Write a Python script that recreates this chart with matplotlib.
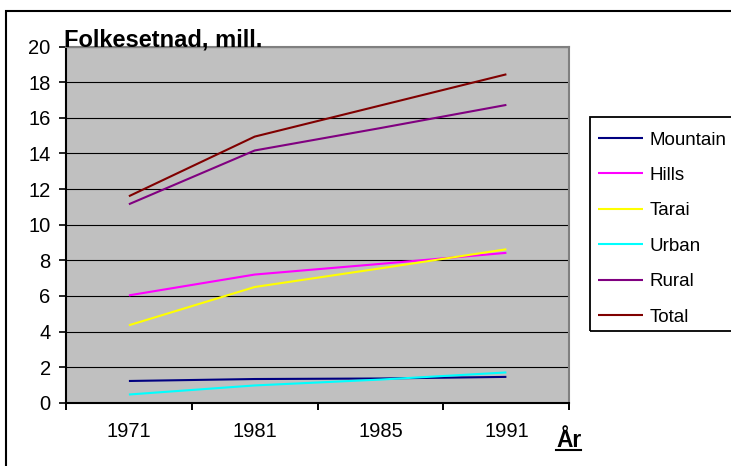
import matplotlib
matplotlib.use("Agg")
import matplotlib.pyplot as plt
from matplotlib.patches import Rectangle
from matplotlib.lines import Line2D

plt.rcParams['font.family'] = ['Liberation Sans', 'DejaVu Sans']

# Population (millions) by region
years = ["1971", "1981", "1985", "1991"]
mountain = [1.22, 1.33, 1.36, 1.45]
hills = [6.03, 7.20, 7.80, 8.42]
tarai = [4.35, 6.50, 7.55, 8.62]
urban = [0.46, 0.97, 1.30, 1.70]
rural = [11.15, 14.17, 15.43, 16.73]
total = [11.60, 14.95, 16.70, 18.45]

series_names = ["Mountain", "Hills", "Tarai", "Urban", "Rural", "Total"]
series_values = [mountain, hills, tarai, urban, rural, total]
series_colors = ["#000080", "#FF00FF", "#FFFF00", "#00FFFF", "#800080", "#800000"]

W, H = 731, 466
fig = plt.figure(figsize=(W / 100, H / 100), dpi=100)
fig.patch.set_facecolor("white")

# plot area in pixels
left, right, top, bottom = 66, 569.3, 46.7, 402.7
ax = fig.add_axes([left / W, (H - bottom) / H, (right - left) / W, (bottom - top) / H])
ax.set_facecolor("#C0C0C0")

x = list(range(len(years)))
for name, vals, col in zip(series_names, series_values, series_colors):
    ax.plot(x, vals, color=col, lw=1.5, label=name, solid_capstyle="butt", zorder=3)

ax.set_xlim(-0.5, len(years) - 0.5)
ax.set_ylim(0, 20)
ax.set_yticks(range(0, 21, 2))
ax.yaxis.grid(True, color="black", lw=0.8)
ax.set_axisbelow(True)

# category boundaries as tick marks, labels at category centres
ax.set_xticks([i - 0.5 for i in range(len(years) + 1)])
ax.set_xticklabels([])
ax.set_xticks(x, minor=True)
ax.set_xticklabels(years, minor=True)
ax.tick_params(axis="x", which="major", direction="out", length=5, width=1.4, color="black")
ax.tick_params(axis="x", which="minor", length=0, pad=14, labelsize=14.5)
ax.tick_params(axis="y", direction="out", length=5, width=1.2, pad=6, labelsize=14.5)

for s in ("left", "bottom"):
    ax.spines[s].set_color("black")
    ax.spines[s].set_linewidth(1.5)
for s in ("top", "right"):
    ax.spines[s].set_color("#808080")
    ax.spines[s].set_linewidth(1.5)

# title and axis caption
fig.text(63.5 / W, 1 - 46.7 / H, "Folkesetnad, mill.", fontsize=17, fontweight="bold",
         ha="left", va="baseline", zorder=10)
ar = fig.text(556 / W, 1 - 447 / H, "År", fontsize=16.5, fontweight="bold",
              ha="left", va="baseline")
fig.canvas.draw()
bb = ar.get_window_extent(fig.canvas.get_renderer())
fig.add_artist(Line2D([bb.x0 / W, bb.x1 / W], [(H - 449.5) / H, (H - 449.5) / H],
                      transform=fig.transFigure, color="black", lw=1.5))

# legend (entries only; its box is drawn separately so it runs off the right edge)
leg = fig.legend(loc="upper left", bbox_to_anchor=(590 / W, 1 - 124 / H),
                 bbox_transform=fig.transFigure, borderaxespad=0, fontsize=13.5,
                 handlelength=2.42, handletextpad=0.35, borderpad=0.4,
                 labelspacing=0.976, frameon=False)
for ln in leg.get_lines():
    ln.set_linewidth(1.5)
fig.add_artist(Rectangle((590 / W, 1 - 330.7 / H), 0.5, (330.7 - 116.7) / H,
                         transform=fig.transFigure, fill=False, edgecolor="black", lw=1.3))

# outer chart border (extends past right and bottom edges)
fig.add_artist(Rectangle((6 / W, -0.1), 1.2, 1 - 11 / H + 0.1, transform=fig.transFigure,
                         fill=False, edgecolor="black", lw=1.5))

fig.savefig("out.png", dpi=100)
